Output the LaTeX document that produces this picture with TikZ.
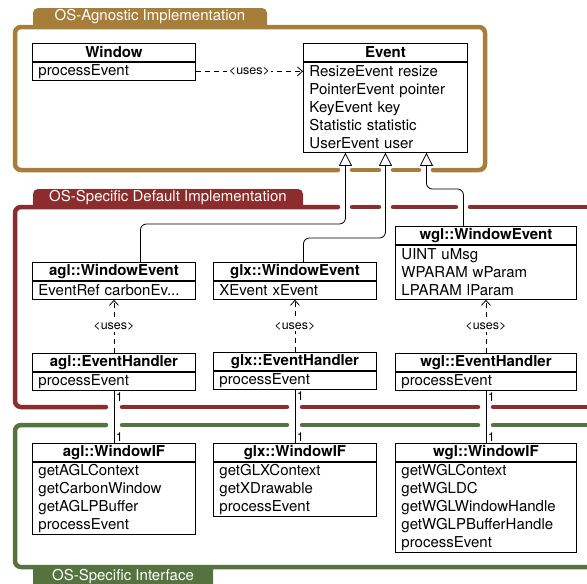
\documentclass[tikz,border=0pt]{standalone}
\usepackage{fontspec}
\setmainfont{TeX Gyre Heros}
\usepackage{tikz}
\usetikzlibrary{arrows.meta}

\definecolor{agncol}{RGB}{166,125,57}
\definecolor{defcol}{RGB}{140,44,44}
\definecolor{ifccol}{RGB}{84,115,62}
\newcommand{\umlfont}{\fontsize{15}{18}\selectfont}
\newcommand{\umlsmall}{\fontsize{12.5}{14}\selectfont}

\begin{document}
\begin{tikzpicture}[x=1pt, y=-1pt,
  frame/.style={line width=4.5pt, line cap=round, rounded corners=6pt},
  tablbl/.style={text=white, font=\umlfont, inner sep=0pt},
  clshead/.style={draw, line width=0.9pt, anchor=north west, minimum width=#1, minimum height=18pt, inner sep=0pt, font=\umlfont\bfseries},
  clsbody/.style={draw, line width=0.9pt, anchor=north west, text width=#1, inner xsep=6pt, inner ysep=0pt, align=left, font=\umlfont},
  uses/.style={line width=0.8pt, dash pattern=on 5pt off 4pt, -{Straight Barb[length=5pt, width=9pt]}},
  usesl/.style={fill=white, font=\umlsmall, inner sep=1.5pt},
  inherit/.style={line width=0.8pt, rounded corners=6pt, -{Triangle[open, length=13pt, width=13pt]}},
  assoc/.style={line width=0.8pt},
  mult/.style={font=\umlsmall, inner sep=1.5pt}]
  \useasboundingbox (0,0) rectangle (587,584);
  \clip (0,0) rectangle (587,584);
  % package frames
  \draw[frame, agncol] (338,170) -- (15,170) -- (15,27) -- (485,27) -- (485,170) -- (433,170);
  \draw[frame, agncol] (352,170) -- (379,170);
  \draw[frame, agncol] (393,170) -- (419,170);
  \fill[agncol] (33,28) [rounded corners=5pt] -- (33,8) -- (267,8) [sharp corners] -- (267,28) -- cycle;
  \node[tablbl] (agnlbl) at (150,17) {OS-Agnostic Implementation};
  \draw[frame, defcol] (338,207) -- (15,207) -- (15,407) -- (106,407);
  \draw[frame, defcol] (122,407) -- (287,407);
  \draw[frame, defcol] (302,407) -- (478,407);
  \draw[frame, defcol] (493,407) -- (600,407);
  \draw[frame, defcol] (352,207) -- (379,207);
  \draw[frame, defcol] (393,207) -- (456,207);
  \draw[frame, defcol] (470,207) -- (600,207);
  \fill[defcol] (33,208) [rounded corners=5pt] -- (33,189) -- (303,189) [sharp corners] -- (303,208) -- cycle;
  \node[tablbl] (deflbl) at (168,198) {OS-Specific Default Implementation};
  \draw[frame, ifccol] (106,425) -- (15,425) -- (15,567) -- (600,567);
  \draw[frame, ifccol] (122,425) -- (287,425);
  \draw[frame, ifccol] (302,425) -- (478,425);
  \draw[frame, ifccol] (493,425) -- (600,425);
  \fill[ifccol] (33,566) [rounded corners=5pt] -- (33,595) -- (213,595) [sharp corners] -- (213,566) -- cycle;
  \node[tablbl] (ifclbl) at (123,577) {OS-Specific Interface};
  % classes
  \node[clshead=163pt] (win) at (32,43) {Window};
  \node[clsbody=151pt, minimum height=18pt] (winb) at (win.south west) {processEvent};
  \node[clshead=164pt] (evt) at (303,43) {Event};
  \node[clsbody=152pt, minimum height=90pt] (evtb) at (evt.south west) {ResizeEvent resize\\PointerEvent pointer\\KeyEvent key\\Statistic statistic\\UserEvent user};
  \node[clshead=163pt] (aglwe) at (32,262) {agl::WindowEvent};
  \node[clsbody=151pt, minimum height=18pt] (aglweb) at (aglwe.south west) {EventRef carbonEv...};
  \node[clshead=163pt] (glxwe) at (213,262) {glx::WindowEvent};
  \node[clsbody=151pt, minimum height=18pt] (glxweb) at (glxwe.south west) {XEvent xEvent};
  \node[clshead=181pt] (wglwe) at (395,226) {wgl::WindowEvent};
  \node[clsbody=169pt, minimum height=54pt] (wglweb) at (wglwe.south west) {UINT uMsg\\WPARAM wParam\\LPARAM lParam};
  \node[clshead=163pt] (agleh) at (32,353) {agl::EventHandler};
  \node[clsbody=151pt, minimum height=18pt] (aglehb) at (agleh.south west) {processEvent};
  \node[clshead=163pt] (glxeh) at (213,352) {glx::EventHandler};
  \node[clsbody=151pt, minimum height=18pt] (glxehb) at (glxeh.south west) {processEvent};
  \node[clshead=181pt] (wgleh) at (395,353) {wgl::EventHandler};
  \node[clsbody=169pt, minimum height=18pt] (wglehb) at (wgleh.south west) {processEvent};
  \node[clshead=163pt] (aglif) at (32,443) {agl::WindowIF};
  \node[clsbody=151pt, minimum height=72pt] (aglifb) at (aglif.south west) {getAGLContext\\getCarbonWindow\\getAGLPBuffer\\processEvent};
  \node[clshead=163pt] (glxif) at (213,443) {glx::WindowIF};
  \node[clsbody=151pt, minimum height=54pt] (glxifb) at (glxif.south west) {getGLXContext\\getXDrawable\\processEvent};
  \node[clshead=181pt] (wglif) at (395,443) {wgl::WindowIF};
  \node[clsbody=169pt, minimum height=90pt] (wglifb) at (wglif.south west) {getWGLContext\\getWGLDC\\getWGLWindowHandle\\getWGLPBufferHandle\\processEvent};
  % connectors
  \draw[uses] (winb.east) -- (winb.east -| evtb.west) node[midway, usesl] (uses0) {<uses>};
  \coordinate (inhagl) at ([xshift=-40pt]evtb.south);
  \coordinate (inhwgl) at ([xshift=41pt]evtb.south);
  \draw[inherit] ([xshift=26.5pt]aglwe.north) |- (inhagl |- 0,224) -- (inhagl);
  \draw[inherit] ([xshift=8.5pt]glxwe.north) |- (evtb.south |- 0,238) -- (evtb.south);
  \draw[inherit] ([xshift=-22.5pt]wglwe.north) |- (inhwgl |- 0,189) -- (inhwgl);
  \draw[uses] (agleh.north) -- (aglweb.south) node[midway, usesl] (uses1) {<uses>};
  \draw[uses] (glxeh.north) -- (glxweb.south) node[midway, usesl] (uses2) {<uses>};
  \draw[uses] (wgleh.north) -- (wglweb.south) node[midway, usesl] (uses3) {<uses>};
  \draw[assoc] (aglehb.south) -- (aglif.north) node[pos=0, anchor=north west, mult] (m1a) {1} node[pos=1, anchor=south west, mult] (m1b) {1};
  \draw[assoc] (glxehb.south) -- (glxif.north) node[pos=0, anchor=north west, mult] (m2a) {1} node[pos=1, anchor=south west, mult] (m2b) {1};
  \draw[assoc] (wglehb.south) -- (wglif.north) node[pos=0, anchor=north west, mult] (m3a) {1} node[pos=1, anchor=south west, mult] (m3b) {1};
\end{tikzpicture}
\end{document}
